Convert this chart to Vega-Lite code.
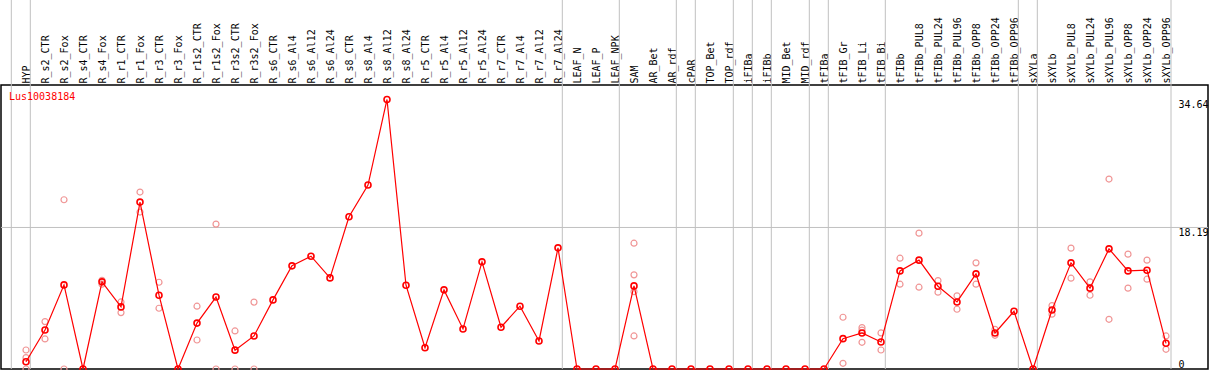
{
  "$schema": "https://vega.github.io/schema/vega-lite/v6.json",
  "width": 1207,
  "height": 284,
  "autosize": {"type": "none"},
  "padding": {"left": 1, "top": 85, "right": 1, "bottom": 1},
  "background": "white",
  "config": {
    "view": {"stroke": "black", "strokeWidth": 1.5},
    "font": "DejaVu Sans Mono"
  },
  "datasets": {
    "means": [
      {"cat": "HYP", "v": 0.94},
      {"cat": "R_s2_CTR", "v": 5.02},
      {"cat": "R_s2_Fox", "v": 10.81},
      {"cat": "R_s4_CTR", "v": 0},
      {"cat": "R_s4_Fox", "v": 11.2},
      {"cat": "R_r1_CTR", "v": 7.98},
      {"cat": "R_r1_Fox", "v": 21.45},
      {"cat": "R_r3_CTR", "v": 9.48},
      {"cat": "R_r3_Fox", "v": 0},
      {"cat": "R_r1s2_CTR", "v": 5.9},
      {"cat": "R_r1s2_Fox", "v": 9.25},
      {"cat": "R_r3s2_CTR", "v": 2.42},
      {"cat": "R_r3s2_Fox", "v": 4.25},
      {"cat": "R_s6_CTR", "v": 8.88},
      {"cat": "R_s6_Al4", "v": 13.26},
      {"cat": "R_s6_Al12", "v": 14.5},
      {"cat": "R_s6_Al24", "v": 11.71},
      {"cat": "R_s8_CTR", "v": 19.56},
      {"cat": "R_s8_Al4", "v": 23.64},
      {"cat": "R_s8_Al12", "v": 34.64},
      {"cat": "R_s8_Al24", "v": 10.77},
      {"cat": "R_r5_CTR", "v": 2.74},
      {"cat": "R_r5_Al4", "v": 10.17},
      {"cat": "R_r5_Al12", "v": 5.15},
      {"cat": "R_r5_Al24", "v": 13.77},
      {"cat": "R_r7_CTR", "v": 5.37},
      {"cat": "R_r7_Al4", "v": 8.07},
      {"cat": "R_r7_Al12", "v": 3.6},
      {"cat": "R_r7_Al24", "v": 15.57},
      {"cat": "LEAF_N", "v": 0},
      {"cat": "LEAF_P", "v": 0},
      {"cat": "LEAF_NPK", "v": 0},
      {"cat": "SAM", "v": 10.68},
      {"cat": "AR_Bet", "v": 0},
      {"cat": "AR_rdf", "v": 0},
      {"cat": "cPAR", "v": 0},
      {"cat": "TOP_Bet", "v": 0},
      {"cat": "TOP_rdf", "v": 0},
      {"cat": "iFIBa", "v": 0},
      {"cat": "iFIBb", "v": 0},
      {"cat": "MID_Bet", "v": 0},
      {"cat": "MID_rdf", "v": 0},
      {"cat": "tFIBa", "v": 0},
      {"cat": "tFIB_Gr", "v": 3.9},
      {"cat": "tFIB_Li", "v": 4.63},
      {"cat": "tFIB_Bi", "v": 3.47},
      {"cat": "tFIBb", "v": 12.61},
      {"cat": "tFIBb_PUL8", "v": 13.99},
      {"cat": "tFIBb_PUL24", "v": 10.64},
      {"cat": "tFIBb_PUL96", "v": 8.62},
      {"cat": "tFIBb_OPP8", "v": 12.23},
      {"cat": "tFIBb_OPP24", "v": 4.63},
      {"cat": "tFIBb_OPP96", "v": 7.42},
      {"cat": "sXYLa", "v": 0},
      {"cat": "sXYLb", "v": 7.59},
      {"cat": "sXYLb_PUL8", "v": 13.64},
      {"cat": "sXYLb_PUL24", "v": 10.39},
      {"cat": "sXYLb_PUL96", "v": 15.44},
      {"cat": "sXYLb_OPP8", "v": 12.61},
      {"cat": "sXYLb_OPP24", "v": 12.7},
      {"cat": "sXYLb_OPP96", "v": 3.3}
    ],
    "reps": [
      {"cat": "HYP", "v": 2.44}, {"cat": "HYP", "v": 1.46}, {"cat": "HYP", "v": 0},
      {"cat": "R_s2_CTR", "v": 6.09}, {"cat": "R_s2_CTR", "v": 3.86},
      {"cat": "R_s2_Fox", "v": 21.75}, {"cat": "R_s2_Fox", "v": 0},
      {"cat": "R_s4_Fox", "v": 11.4}, {"cat": "R_s4_Fox", "v": 10.9},
      {"cat": "R_r1_CTR", "v": 8.62}, {"cat": "R_r1_CTR", "v": 7.25},
      {"cat": "R_r1_Fox", "v": 22.74}, {"cat": "R_r1_Fox", "v": 20.17},
      {"cat": "R_r3_CTR", "v": 11.15}, {"cat": "R_r3_CTR", "v": 7.81},
      {"cat": "R_r1s2_CTR", "v": 8.07}, {"cat": "R_r1s2_CTR", "v": 3.73},
      {"cat": "R_r1s2_Fox", "v": 18.62}, {"cat": "R_r1s2_Fox", "v": 0},
      {"cat": "R_r3s2_CTR", "v": 4.89}, {"cat": "R_r3s2_CTR", "v": 0},
      {"cat": "R_r3s2_Fox", "v": 8.6}, {"cat": "R_r3s2_Fox", "v": 0},
      {"cat": "SAM", "v": 16.17}, {"cat": "SAM", "v": 12.1}, {"cat": "SAM", "v": 9.95}, {"cat": "SAM", "v": 4.25},
      {"cat": "tFIB_Gr", "v": 6.65}, {"cat": "tFIB_Gr", "v": 0.73},
      {"cat": "tFIB_Li", "v": 5.32}, {"cat": "tFIB_Li", "v": 5.0}, {"cat": "tFIB_Li", "v": 3.43},
      {"cat": "tFIB_Bi", "v": 4.63}, {"cat": "tFIB_Bi", "v": 2.44},
      {"cat": "tFIBb", "v": 14.24}, {"cat": "tFIBb", "v": 10.9},
      {"cat": "tFIBb_PUL8", "v": 17.46}, {"cat": "tFIBb_PUL8", "v": 10.51},
      {"cat": "tFIBb_PUL24", "v": 11.37}, {"cat": "tFIBb_PUL24", "v": 9.87},
      {"cat": "tFIBb_PUL96", "v": 9.4}, {"cat": "tFIBb_PUL96", "v": 7.68},
      {"cat": "tFIBb_OPP8", "v": 13.64}, {"cat": "tFIBb_OPP8", "v": 10.9},
      {"cat": "tFIBb_OPP24", "v": 5.1}, {"cat": "tFIBb_OPP24", "v": 4.33},
      {"cat": "sXYLb", "v": 8.15}, {"cat": "sXYLb", "v": 7.04},
      {"cat": "sXYLb_PUL8", "v": 15.53}, {"cat": "sXYLb_PUL8", "v": 11.67},
      {"cat": "sXYLb_PUL24", "v": 11.2}, {"cat": "sXYLb_PUL24", "v": 9.48},
      {"cat": "sXYLb_PUL96", "v": 24.41}, {"cat": "sXYLb_PUL96", "v": 6.39},
      {"cat": "sXYLb_OPP8", "v": 14.76}, {"cat": "sXYLb_OPP8", "v": 10.39},
      {"cat": "sXYLb_OPP24", "v": 13.99}, {"cat": "sXYLb_OPP24", "v": 11.54},
      {"cat": "sXYLb_OPP96", "v": 4.25}, {"cat": "sXYLb_OPP96", "v": 2.53}
    ],
    "groupStarts": [
      {"cat": "HYP"}, {"cat": "R_s2_CTR"}, {"cat": "LEAF_N"}, {"cat": "SAM"},
      {"cat": "cPAR"}, {"cat": "TOP_Bet"}, {"cat": "iFIBa"}, {"cat": "iFIBb"},
      {"cat": "MID_Bet"}, {"cat": "tFIBa"}, {"cat": "tFIB_Gr"}, {"cat": "tFIBb"},
      {"cat": "sXYLa"}, {"cat": "sXYLb"}
    ],
    "groupEnd": [{"cat": "sXYLb_OPP96"}]
  },
  "layer": [
    {
      "data": {"name": "groupStarts"},
      "mark": {"type": "rule", "color": "#c0c0c0", "strokeWidth": 1, "xOffset": -14.7},
      "encoding": {
        "x": {
          "field": "cat", "type": "nominal", "sort": null,
          "scale": {
            "type": "point",
            "padding": 0,
            "range": [25, 1165],
            "domain": ["HYP","R_s2_CTR","R_s2_Fox","R_s4_CTR","R_s4_Fox","R_r1_CTR","R_r1_Fox","R_r3_CTR","R_r3_Fox","R_r1s2_CTR","R_r1s2_Fox","R_r3s2_CTR","R_r3s2_Fox","R_s6_CTR","R_s6_Al4","R_s6_Al12","R_s6_Al24","R_s8_CTR","R_s8_Al4","R_s8_Al12","R_s8_Al24","R_r5_CTR","R_r5_Al4","R_r5_Al12","R_r5_Al24","R_r7_CTR","R_r7_Al4","R_r7_Al12","R_r7_Al24","LEAF_N","LEAF_P","LEAF_NPK","SAM","AR_Bet","AR_rdf","cPAR","TOP_Bet","TOP_rdf","iFIBa","iFIBb","MID_Bet","MID_rdf","tFIBa","tFIB_Gr","tFIB_Li","tFIB_Bi","tFIBb","tFIBb_PUL8","tFIBb_PUL24","tFIBb_PUL96","tFIBb_OPP8","tFIBb_OPP24","tFIBb_OPP96","sXYLa","sXYLb","sXYLb_PUL8","sXYLb_PUL24","sXYLb_PUL96","sXYLb_OPP8","sXYLb_OPP24","sXYLb_OPP96"]
          },
          "axis": {
            "orient": "top",
            "title": null,
            "labelAngle": 270,
            "labelAlign": "left",
            "labelBaseline": "middle",
            "ticks": false,
            "domain": false,
            "grid": false,
            "labelPadding": 2,
            "labelFont": "DejaVu Sans Mono",
            "labelFontSize": 10,
            "labelColor": "black",
            "labelOverlap": false
          }
        },
        "y": {
          "datum": 0, "type": "quantitative",
          "scale": {"domain": [0, 36.5], "nice": false, "zero": true},
          "axis": {
            "orient": "right",
            "offset": -31,
            "title": null,
            "values": [0, 18.19, 34.64],
            "format": ".4~g",
            "ticks": false,
            "domain": false,
            "grid": false,
            "labelAlign": "left",
            "labelPadding": 1,
            "labelBaseline": {"condition": {"test": "datum.value == 0", "value": "bottom"}, "value": "top"},
            "labelFont": "DejaVu Sans Mono",
            "labelFontSize": 10,
            "labelColor": "black"
          }
        },
        "y2": {"datum": 47.5}
      }
    },
    {
      "data": {"name": "groupEnd"},
      "mark": {"type": "rule", "color": "#c0c0c0", "strokeWidth": 1, "xOffset": 5},
      "encoding": {
        "x": {"field": "cat", "type": "nominal", "sort": null},
        "y": {"datum": 0, "type": "quantitative"},
        "y2": {"datum": 47.5}
      }
    },
    {
      "data": {"values": [{"g": 18.19}]},
      "mark": {"type": "rule", "color": "#c0c0c0", "strokeWidth": 1},
      "encoding": {
        "y": {"field": "g", "type": "quantitative"}
      }
    },
    {
      "data": {"name": "reps"},
      "mark": {"type": "point", "shape": "circle", "filled": false, "color": "#f09696", "strokeWidth": 1.2, "size": 36, "opacity": 1},
      "encoding": {
        "x": {"field": "cat", "type": "nominal", "sort": null},
        "y": {"field": "v", "type": "quantitative"}
      }
    },
    {
      "data": {"name": "means"},
      "mark": {"type": "line", "color": "#ff0000", "strokeWidth": 1.2},
      "encoding": {
        "x": {"field": "cat", "type": "nominal", "sort": null},
        "y": {"field": "v", "type": "quantitative"}
      }
    },
    {
      "data": {"name": "means"},
      "mark": {"type": "point", "shape": "circle", "filled": false, "color": "#ff0000", "strokeWidth": 1.6, "size": 36, "opacity": 1},
      "encoding": {
        "x": {"field": "cat", "type": "nominal", "sort": null},
        "y": {"field": "v", "type": "quantitative"}
      }
    },
    {
      "data": {"values": [{"name": "Lus10038184"}]},
      "mark": {"type": "text", "color": "#ff0000", "font": "DejaVu Sans Mono", "fontSize": 10, "align": "left", "baseline": "middle", "dx": -17},
      "encoding": {
        "x": {"datum": "HYP"},
        "y": {"datum": 35.0, "type": "quantitative"},
        "text": {"field": "name", "type": "nominal"}
      }
    }
  ]
}
